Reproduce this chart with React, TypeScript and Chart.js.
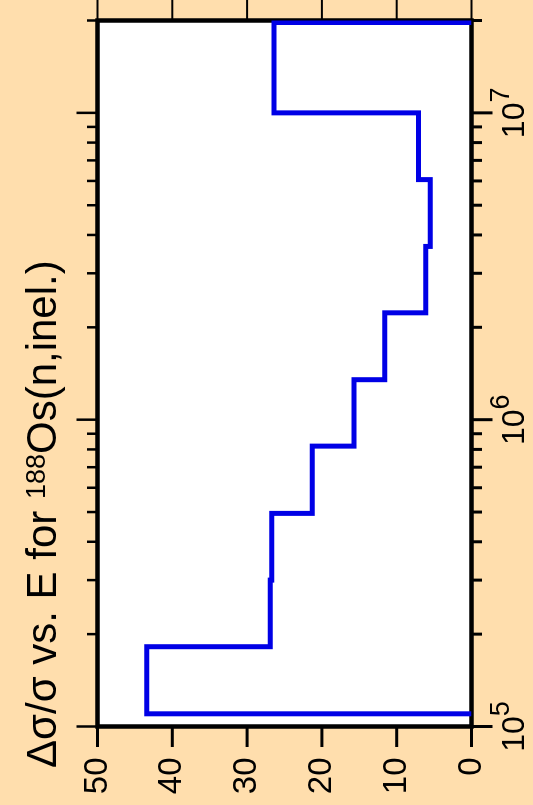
import React, { useEffect, useRef } from "react";
import { Chart, registerables } from "chart.js";

Chart.register(...registerables);

// ---- data ----
const energyEdges = [1.1e5, 1.82e5, 3.0e5, 4.95e5, 8.2e5, 1.35e6, 2.23e6, 3.67e6, 6.06e6, 1.0e7, 1.97e7];
const relUncertainty = [43.4, 26.9, 26.7, 21.3, 15.7, 11.6, 6.1, 5.5, 7.1, 26.4];
const energyMin = 1e5;
const energyMax = 2e7;
const decadeExponents = [5, 6, 7];
const minorMultipliers = [2, 3, 4, 5, 6, 7, 8, 9];
const yMin = 0;
const yMax = 50;
const yStep = 10;
const titleMain = "\u0394\u03c3/\u03c3 vs. E for ";
const titleSup = "188";
const titleRest = "Os(n,inel.)";

const FONT = '"Liberation Sans", Arial, Helvetica, sans-serif';
const BG = "#FFDEAD";
const LINE = "rgb(0,0,230)";

function buildPoints() {
  const pts: { x: number; y: number }[] = [{ x: energyEdges[0], y: 0 }];
  relUncertainty.forEach((v, i) => {
    pts.push({ x: energyEdges[i], y: v });
    pts.push({ x: energyEdges[i + 1], y: v });
  });
  pts.push({ x: energyEdges[energyEdges.length - 1], y: 0 });
  return pts;
}

const framePlugin = {
  id: "frame",
  beforeDraw(chart: any) {
    const { ctx, chartArea: a, width, height } = chart;
    ctx.save();
    ctx.fillStyle = BG;
    ctx.fillRect(0, 0, width, height);
    ctx.fillStyle = "#fff";
    ctx.fillRect(a.left, a.top, a.right - a.left, a.bottom - a.top);
    ctx.restore();
  },
  beforeDatasetsDraw(chart: any) {
    const { ctx, chartArea: a, scales } = chart;
    const xs = scales.x;
    const ys = scales.y;
    ctx.save();
    ctx.strokeStyle = "#000";
    // log ticks (bottom & top)
    const logTicks: { v: number; major: boolean }[] = [];
    decadeExponents.forEach((e) => {
      logTicks.push({ v: Math.pow(10, e), major: true });
      minorMultipliers.forEach((m) => logTicks.push({ v: m * Math.pow(10, e), major: false }));
    });
    logTicks.forEach((t) => {
      if (t.v < energyMin || t.v > energyMax * 1.0001) return;
      const px = xs.getPixelForValue(t.v);
      const len = t.major ? 21 : 10.5;
      ctx.lineWidth = 3;
      ctx.beginPath();
      ctx.moveTo(px, a.bottom);
      ctx.lineTo(px, a.bottom + len);
      ctx.stroke();
      ctx.lineWidth = 2.5;
      ctx.beginPath();
      ctx.moveTo(px, a.top);
      ctx.lineTo(px, a.top - len);
      ctx.stroke();
    });
    // linear ticks (left & right)
    ys.ticks.forEach((t: any) => {
      const py = ys.getPixelForValue(t.value);
      ctx.lineWidth = 3;
      ctx.beginPath();
      ctx.moveTo(a.left, py);
      ctx.lineTo(a.left - 20.5, py);
      ctx.stroke();
      ctx.lineWidth = 2;
      ctx.beginPath();
      ctx.moveTo(a.right, py);
      ctx.lineTo(a.right + 21, py);
      ctx.stroke();
    });
    // frame
    ctx.lineWidth = 4.5;
    ctx.strokeRect(a.left, a.top, a.right - a.left, a.bottom - a.top);

    // exponent labels
    ctx.fillStyle = "#000";
    ctx.textAlign = "left";
    ctx.textBaseline = "alphabetic";
    decadeExponents.forEach((e) => {
      const v = Math.pow(10, e);
      if (v < energyMin || v > energyMax) return;
      const px = xs.getPixelForValue(v);
      ctx.font = `32px ${FONT}`;
      const wMain = ctx.measureText("10").width;
      ctx.font = `27px ${FONT}`;
      const wSup = ctx.measureText(String(e)).width;
      const x0 = px - (wMain + wSup) / 2;
      ctx.font = `32px ${FONT}`;
      ctx.fillText("10", x0, 523.5);
      ctx.font = `27px ${FONT}`;
      ctx.fillText(String(e), x0 + wMain, 508.5);
    });

    // title
    let tx = 37;
    ctx.font = `42px ${FONT}`;
    ctx.fillText(titleMain, tx, 56);
    tx += ctx.measureText(titleMain).width;
    ctx.font = `27px ${FONT}`;
    ctx.fillText(titleSup, tx, 45);
    tx += ctx.measureText(titleSup).width;
    ctx.font = `42px ${FONT}`;
    ctx.fillText(titleRest, tx, 56);
    ctx.restore();
  },
};

export default function App() {
  const ref = useRef<HTMLCanvasElement | null>(null);
  useEffect(() => {
    if (!ref.current) return;
    const chart = new Chart(ref.current, {
      type: "line",
      data: {
        datasets: [
          {
            data: buildPoints(),
            borderColor: LINE,
            borderWidth: 5,
            pointRadius: 0,
            fill: false,
            tension: 0,
            borderJoinStyle: "miter",
            borderCapStyle: "butt",
          } as any,
        ],
      },
      options: {
        responsive: false,
        animation: false,
        devicePixelRatio: 1,
        layout: { padding: { top: 97.5, right: 20.5, left: 0, bottom: 0 } },
        plugins: {
          legend: { display: false },
          tooltip: { enabled: false },
          title: { display: false },
        },
        scales: {
          x: {
            type: "logarithmic",
            min: energyMin,
            max: energyMax,
            grid: { display: false, drawTicks: false },
            border: { display: false },
            ticks: { display: false },
            afterFit: (s: any) => {
              s.height = 61.5;
            },
          },
          y: {
            type: "linear",
            min: yMin,
            max: yMax,
            grid: { display: false, drawTicks: false },
            border: { display: false },
            ticks: {
              stepSize: yStep,
              color: "#000",
              padding: 31,
              font: { family: FONT, size: 33 },
            },
            afterFit: (s: any) => {
              s.width = 78.5;
            },
          },
        },
      } as any,
      plugins: [framePlugin],
    });
    return () => chart.destroy();
  }, []);

  return (
    <div
      style={{
        position: "fixed",
        left: 0,
        top: 0,
        width: 533,
        height: 805,
        overflow: "hidden",
        background: BG,
      }}
    >
      <div
        style={{
          position: "absolute",
          left: 0,
          top: 0,
          width: 805,
          height: 533,
          transformOrigin: "0 0",
          transform: "translateY(805px) rotate(-90deg)",
        }}
      >
        <canvas ref={ref} width={805} height={533} style={{ display: "block" }} />
      </div>
    </div>
  );
}
